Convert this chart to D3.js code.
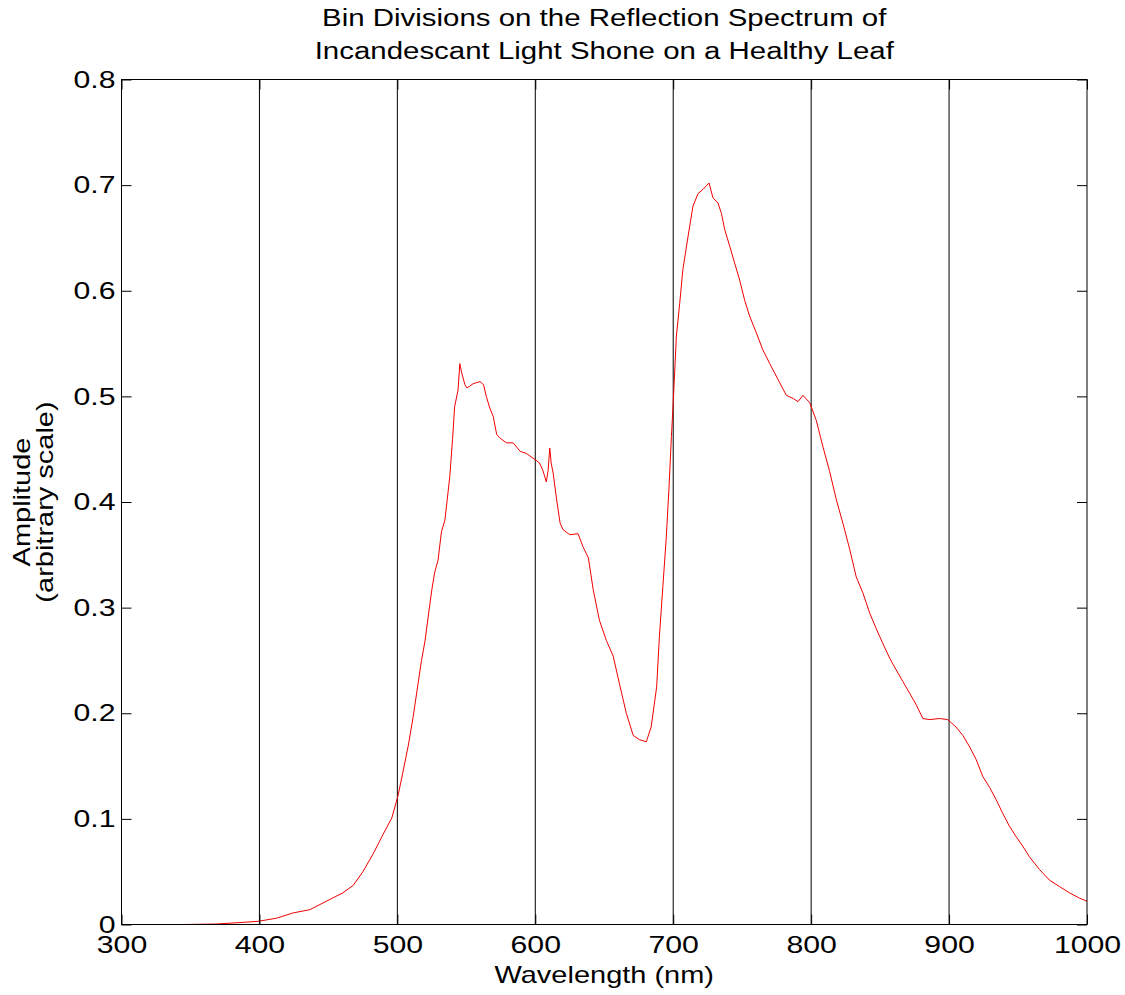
<html>
  <meta charset="utf-8" />
  <script src="https://d3js.org/d3.v7.min.js"></script>
  <style>
    body { margin: 0; background: #fff; }
    text { font-family: "Liberation Sans", Arial, sans-serif; fill: #000; }
  </style>
  <body>
    <svg width="1125" height="995" id="chart"></svg>
    <script>
      // values
      const wavelength = [
        345, 369, 388, 399, 412.5, 424.5, 436.5, 448.5, 460.5, 468, 475, 482.5,
        489.5, 496, 500.5, 504, 508, 511.5, 515, 517.5, 520, 522.5, 525, 527,
        529.5, 532, 534.5, 538, 540, 541.5, 544, 545.3, 546.5, 549, 550.5, 555,
        560, 562.5, 564.5, 567, 569.5, 572, 574, 579, 584, 589, 593.5, 600, 603,
        605.5, 608, 609.3, 610.5, 611.5, 613, 615.5, 618, 620, 625, 631, 634.5,
        638.5, 642, 646.5, 651.5, 656.5, 661, 666, 671, 675.5, 680.5, 684, 688,
        690, 692.5, 695, 697, 698.7, 700, 702.3, 704.7, 707, 710.7, 714.3, 718,
        721.6, 726, 728.8, 732.5, 735, 737.3, 741, 744.6, 748.2, 751.8, 755.4,
        760.3, 765, 770, 776, 782, 787, 790.5, 794, 799, 803.8, 808.6, 813.4,
        818.3, 823, 828, 832.7, 837.5, 842.4, 847.2, 852, 857, 861.7, 866.5,
        871.4, 876.2, 881, 886, 893, 899, 905, 910, 915, 919.7, 924.5, 929.3,
        934.2, 939, 943.8, 948.7, 953.5, 958.3, 965.6, 972.8, 980, 987.3, 994.5,
        1000
      ];
      const amplitude = [
        0.0, 0.0005, 0.002, 0.003, 0.006, 0.011, 0.014, 0.022, 0.03, 0.037, 0.05,
        0.067, 0.085, 0.101, 0.122, 0.144, 0.17, 0.197, 0.228, 0.25, 0.268,
        0.293, 0.317, 0.333, 0.345, 0.372, 0.383, 0.424, 0.459, 0.49, 0.506,
        0.531, 0.523, 0.511, 0.508, 0.512, 0.514, 0.511, 0.5, 0.489, 0.481,
        0.464, 0.461, 0.456, 0.456, 0.448, 0.446, 0.44, 0.437, 0.43, 0.419,
        0.43, 0.451, 0.437, 0.427, 0.402, 0.38, 0.374, 0.369, 0.37, 0.358,
        0.347, 0.317, 0.288, 0.269, 0.254, 0.228, 0.2, 0.179, 0.175, 0.173,
        0.187, 0.225, 0.273, 0.32, 0.367, 0.415, 0.462, 0.494, 0.557, 0.588,
        0.62, 0.651, 0.68, 0.692, 0.696, 0.702, 0.688, 0.683, 0.673, 0.658,
        0.642, 0.626, 0.61, 0.591, 0.576, 0.56, 0.544, 0.531, 0.516, 0.501,
        0.498, 0.495, 0.501, 0.494, 0.477, 0.452, 0.429, 0.402, 0.38, 0.355,
        0.329, 0.314, 0.295, 0.28, 0.266, 0.252, 0.241, 0.23, 0.219, 0.208,
        0.195, 0.194, 0.195, 0.194, 0.187, 0.179, 0.168, 0.156, 0.14, 0.13,
        0.118, 0.105, 0.093, 0.083, 0.074, 0.064, 0.052, 0.042, 0.036, 0.03,
        0.025, 0.022
      ];
      const binEdges = [400, 500, 600, 700, 800, 900];
      const xTicks = [300, 400, 500, 600, 700, 800, 900, 1000];
      const yTicks = [0, 0.1, 0.2, 0.3, 0.4, 0.5, 0.6, 0.7, 0.8];
      const titleLines = [
        "Bin Divisions on the Reflection Spectrum of",
        "Incandescant Light Shone on a Healthy Leaf"
      ];

      const plotLeft = 121.5, plotRight = 1087, plotTop = 79.5, plotBottom = 924.5;
      const stretch = 1.26;

      const svg = d3.select("#chart");
      const x = d3.scaleLinear().domain([300, 1000]).range([plotLeft, plotRight]);
      const y = d3.scaleLinear().domain([0, 0.8]).range([plotBottom, plotTop]);

      // bin divisions
      svg.append("g")
        .selectAll("line")
        .data(binEdges)
        .enter()
        .append("line")
        .attr("x1", (d) => x(d))
        .attr("x2", (d) => x(d))
        .attr("y1", plotTop)
        .attr("y2", plotBottom)
        .attr("stroke", "#000")
        .attr("stroke-width", 1);

      // spectrum
      const line = d3.line()
        .x((d) => x(d[0]))
        .y((d) => y(d[1]));
      svg.append("path")
        .datum(wavelength.map((w, i) => [w, amplitude[i]]))
        .attr("d", line)
        .attr("fill", "none")
        .attr("stroke", "#f00000")
        .attr("stroke-width", 1);

      // axes, ticks inward on all four sides
      function styleAxis(g) {
        g.select(".domain").remove();
        g.selectAll(".tick line").attr("stroke", "#000");
      }
      svg.append("g")
        .attr("transform", `translate(${plotLeft},0)`)
        .call(d3.axisLeft(y).tickValues(yTicks).tickSizeInner(-10).tickSizeOuter(0).tickPadding(6)
          .tickFormat((d) => (d === 0 ? "0" : d3.format(".1f")(d))))
        .call(styleAxis)
        .call((g) => g.selectAll("text")
          .attr("font-size", 24)
          .attr("font-family", "Liberation Sans, Arial, sans-serif")
          .attr("x", -6 / stretch)
          .attr("transform", `scale(${stretch},1)`));
      svg.append("g")
        .attr("transform", `translate(${plotRight},0)`)
        .call(d3.axisRight(y).tickValues(yTicks).tickSizeInner(-10).tickSizeOuter(0).tickFormat(""))
        .call(styleAxis);
      svg.append("g")
        .attr("transform", `translate(0,${plotBottom})`)
        .call(d3.axisBottom(x).tickValues(xTicks).tickSizeInner(-10).tickSizeOuter(0)
          .tickFormat(d3.format("d")))
        .call(styleAxis)
        .call((g) => g.selectAll("text")
          .attr("font-size", 24)
          .attr("font-family", "Liberation Sans, Arial, sans-serif")
          .attr("y", 11)
          .attr("dy", "0.71em")
          .attr("transform", `scale(${stretch},1)`));
      svg.append("g")
        .attr("transform", `translate(0,${plotTop})`)
        .call(d3.axisTop(x).tickValues(xTicks).tickSizeInner(-10).tickSizeOuter(0).tickFormat(""))
        .call(styleAxis);

      svg.append("rect")
        .attr("x", plotLeft)
        .attr("y", plotTop)
        .attr("width", plotRight - plotLeft)
        .attr("height", plotBottom - plotTop)
        .attr("fill", "none")
        .attr("stroke", "#000")
        .attr("stroke-width", 1);

      // title
      svg.append("g")
        .selectAll("text")
        .data(titleLines)
        .enter()
        .append("text")
        .attr("transform", (d, i) => `translate(${(plotLeft + plotRight) / 2},${26 + i * 33.3}) scale(${stretch + 0.02},1)`)
        .attr("text-anchor", "middle")
        .attr("font-size", 23)
        .text((d) => d);

      // axis labels
      svg.append("text")
        .attr("transform", `translate(${(plotLeft + plotRight) / 2},983) scale(${stretch},1)`)
        .attr("text-anchor", "middle")
        .attr("font-size", 23)
        .text("Wavelength (nm)");

      svg.append("text")
        .attr("transform", `translate(30,${(plotTop + plotBottom) / 2}) rotate(-90) scale(${stretch},1)`)
        .attr("text-anchor", "middle")
        .attr("font-size", 23)
        .text("Amplitude");
      svg.append("text")
        .attr("transform", `translate(53,${(plotTop + plotBottom) / 2}) rotate(-90) scale(${stretch},1)`)
        .attr("text-anchor", "middle")
        .attr("font-size", 23)
        .text("(arbitrary scale)");
    </script>
  </body>
</html>
